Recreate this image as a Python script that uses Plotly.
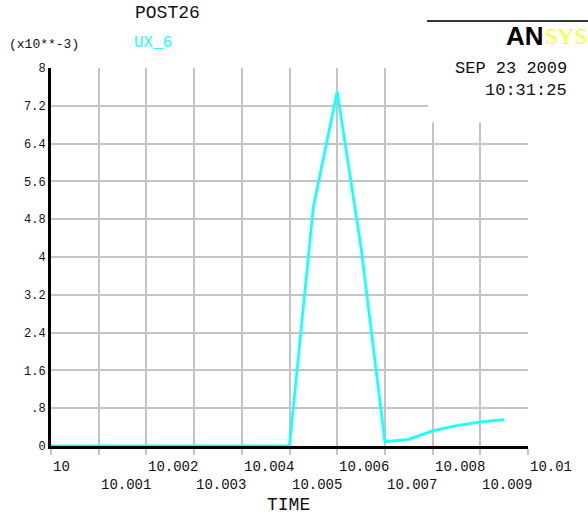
import plotly.graph_objects as go

# ---- data ----
time = [10.0, 10.001, 10.002, 10.003, 10.004, 10.005, 10.0055, 10.006, 10.0065,
        10.007, 10.0075, 10.008, 10.0085, 10.009, 10.0095]
ux6 = [0, 0, 0, 0, 0, 0, 5.06, 7.5, 4.2, 0.09, 0.14, 0.32, 0.43, 0.51, 0.56]

x_ticks = [10.0, 10.001, 10.002, 10.003, 10.004, 10.005, 10.006, 10.007, 10.008, 10.009, 10.01]
x_tick_text = ["10", "10.001", "10.002", "10.003", "10.004", "10.005", "10.006",
               "10.007", "10.008", "10.009", "10.01"]
y_ticks = [0, 0.8, 1.6, 2.4, 3.2, 4.0, 4.8, 5.6, 6.4, 7.2, 8.0]
y_tick_text = ["0", ".8", "1.6", "2.4", "3.2", "4", "4.8", "5.6", "6.4", "7.2", "8"]

W, H = 588, 516
L, R, T, B = 51, 60, 68, 70
pw = W - L - R
ph = H - T - B
MONO = "Liberation Mono, Courier New, monospace"


def px_x(px):
    return (px - L) / pw


def px_y(py):
    return (H - B - py) / ph


fig = go.Figure()
fig.add_trace(go.Scatter(x=time, y=ux6, mode="lines",
                         line=dict(color="#1affff", width=2.8),
                         showlegend=False, hoverinfo="skip"))

annotations = []
for i, (v, t) in enumerate(zip(x_ticks, x_tick_text)):
    annotations.append(dict(x=v, xref="x", y=0, yref="paper", text=t, showarrow=False,
                            xanchor="left", yanchor="middle", xshift=0,
                            yshift=-21 if i % 2 == 0 else -39,
                            font=dict(family=MONO, size=14, color="#111")))
annotations += [
    dict(x=px_x(288.5), xref="paper", y=px_y(505), yref="paper", text="TIME", showarrow=False,
         xanchor="center", yanchor="middle", font=dict(family=MONO, size=18, color="#111")),
    dict(x=px_x(167), xref="paper", y=px_y(13), yref="paper", text="POST26", showarrow=False,
         xanchor="center", yanchor="middle", font=dict(family=MONO, size=18, color="#111")),
    dict(x=px_x(132), xref="paper", y=px_y(43), yref="paper", text="UX_6", showarrow=False,
         xanchor="left", yanchor="middle", font=dict(family=MONO, size=16, color="#1affff")),
    dict(x=px_x(7), xref="paper", y=px_y(45), yref="paper", text="(x10**-3)", showarrow=False,
         xanchor="left", yanchor="middle", font=dict(family=MONO, size=13, color="#111")),
    dict(x=px_x(504), xref="paper", y=px_y(36), yref="paper", text="<b>AN</b>", showarrow=False,
         xanchor="left", yanchor="middle",
         font=dict(family="Liberation Sans, Arial", size=26, color="#000")),
    dict(x=px_x(543), xref="paper", y=px_y(36), yref="paper", text="SYS", showarrow=False,
         xanchor="left", yanchor="middle",
         font=dict(family="Liberation Serif, Times New Roman", size=23, color="#ffff22")),
    dict(x=px_x(569), xref="paper", y=px_y(68), yref="paper", text="SEP 23 2009", showarrow=False,
         xanchor="right", yanchor="middle", font=dict(family=MONO, size=17, color="#111")),
    dict(x=px_x(569), xref="paper", y=px_y(90), yref="paper", text="10:31:25", showarrow=False,
         xanchor="right", yanchor="middle", font=dict(family=MONO, size=17, color="#111")),
]

shapes = [
    # white box hiding grid in the upper-right legend area
    dict(type="rect", xref="x", yref="y", x0=10.00791, x1=10.0106, y0=6.85, y1=8.5,
         fillcolor="white", line=dict(width=0), layer="between"),
    dict(type="line", xref="paper", yref="paper", x0=px_x(427), x1=px_x(600),
         y0=px_y(21), y1=px_y(21), line=dict(color="#333", width=2)),
]

fig.update_layout(
    width=W, height=H,
    margin=dict(l=L, r=R, t=T, b=B, pad=0),
    paper_bgcolor="white", plot_bgcolor="white",
    annotations=annotations, shapes=shapes,
    xaxis=dict(range=[10.0, 10.01], tickvals=x_ticks, showticklabels=False,
               showgrid=True, gridcolor="#c4c4c4", gridwidth=1.5,
               ticks="outside", ticklen=6, tickcolor="#c4c4c4", tickwidth=1.5,
               showline=True, linecolor="black", linewidth=3,
               zeroline=False, layer="below traces"),
    yaxis=dict(range=[0, 8], tickvals=y_ticks, ticktext=y_tick_text,
               showgrid=True, gridcolor="#c4c4c4", gridwidth=1.5,
               ticks="", showline=True, linecolor="black", linewidth=3,
               zeroline=False, layer="below traces",
               tickfont=dict(family=MONO, size=12, color="#111")),
)

fig.write_html("out.html",
               config={"displayModeBar": False},
               post_script="document.body.style.margin='0';"
                           "document.body.style.overflow='hidden';"
                           "document.documentElement.style.overflow='hidden';")
